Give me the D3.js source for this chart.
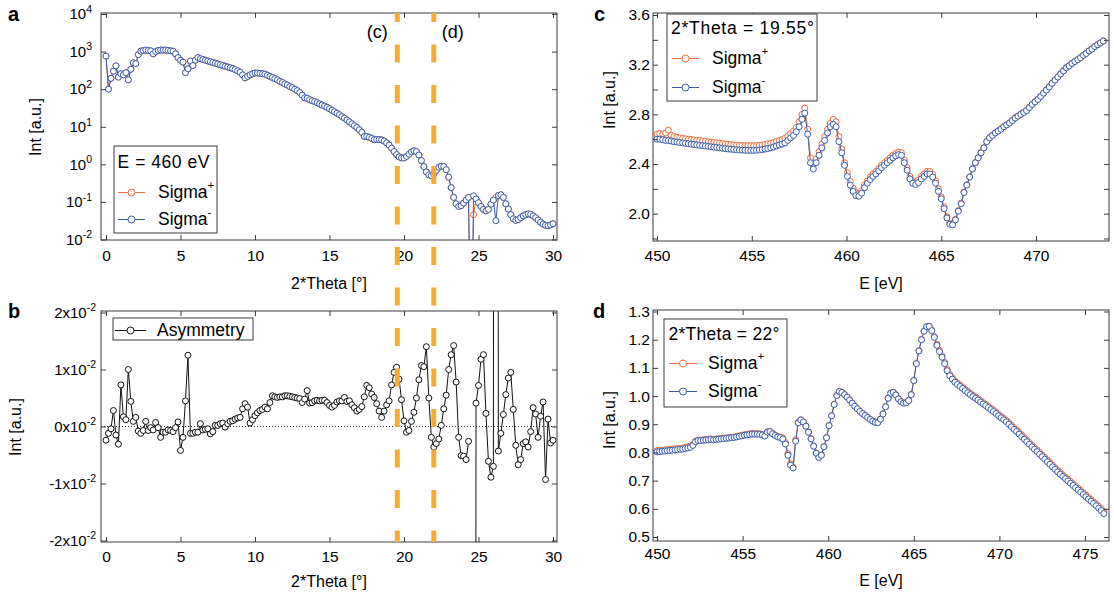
<!DOCTYPE html>
<html>
<head>
<meta charset="utf-8">
<script src="https://cdn.jsdelivr.net/npm/d3@7"></script>
<style>
  html, body { margin: 0; padding: 0; background: #fff; }
  svg { display: block; }
</style>
</head>
<body>
<svg id="chart" width="1114" height="596"></svg>
<script>
// ---------------------------------------------------------------
// Panel a: reflected intensity vs 2*Theta at E = 460 eV (log axis)
// ---------------------------------------------------------------
const sigmaMinusA = [
  760,100,195,302,417,209,257,240,275,178,
  339,501,479,832,1023,1072,1096,1072,1047,871,
  1000,1072,1096,1096,1096,1072,1047,1023,871,692,
  589,525,275,347,562,427,589,692,646,617,
  589,562,537,513,490,468,447,427,407,389,
  372,355,331,309,282,240,200,219,240,257,
  269,269,263,257,251,234,219,204,191,178,
  162,151,138,129,117,110,100,91.2,81.3,69.2,
  58.9,57.5,52.5,49.0,46.8,43.7,40.7,38.0,35.5,33.1,
  30.2,27.5,25.1,22.9,20.9,18.6,17.0,15.1,13.5,12.0,
  10.7,9.55,8.32,7.08,5.50,5.50,5.25,4.90,4.57,4.57,
  4.57,4.47,4.17,3.72,3.24,2.69,2.19,1.82,1.58,1.48,
  1.48,1.62,1.86,2.14,2.29,2.19,1.78,1.26,0.871,0.631,
  0.525,0.501,0.550,0.692,0.832,0.891,0.871,0.724,0.457,0.240,
  0.132,0.0891,0.0759,0.0794,0.0933,0.112,0.132,1e-6,0.145,0.120,
  0.0955,0.0759,0.0631,0.0575,0.0631,0.0871,0.112,0.0316,0.148,0.155,
  0.132,0.0891,0.0646,0.0457,0.0355,0.0324,0.0339,0.0380,0.0427,0.0457,
  0.0479,0.0468,0.0427,0.0380,0.0331,0.0288,0.0257,0.0240,0.0234,0.0245,
  0.0263
];
const sigmaPlusA = [
  760,100,195,302,417,209,257,240,275,178,
  339,501,479,832,1023,1072,1096,1072,1047,871,
  1000,1072,1096,1096,1096,1072,1047,1023,871,692,
  589,525,275,347,562,427,589,692,646,617,
  589,562,537,513,490,468,447,427,407,389,
  372,355,331,309,282,240,200,219,240,257,
  269,269,263,257,251,234,219,204,191,178,
  162,151,138,129,117,110,100,91.2,81.3,69.2,
  58.9,57.5,52.5,49.0,46.8,43.7,40.7,38.0,35.5,33.1,
  30.2,27.5,25.1,22.9,20.9,18.6,17.0,15.1,13.5,12.0,
  10.7,9.55,8.32,7.08,5.50,5.50,5.25,4.90,4.57,4.57,
  4.57,4.47,4.17,3.72,3.24,2.69,2.19,1.82,1.58,1.48,
  1.48,1.62,1.86,2.14,2.29,2.19,1.78,1.26,0.871,0.631,
  0.525,0.501,0.550,0.692,0.832,0.891,0.871,0.724,0.457,0.240,
  0.132,0.0891,0.0759,0.0794,0.0933,0.112,0.132,1e-6,0.0457,0.120,
  0.0955,0.0759,0.0631,0.0575,0.0631,0.0871,0.112,0.132,0.148,0.155,
  0.132,0.0891,0.0646,0.0457,0.0355,0.0324,0.0339,0.0380,0.0427,0.0457,
  0.0479,0.0468,0.0427,0.0380,0.0331,0.0288,0.0257,0.0240,0.0234,0.0245,
  0.0263
];

// ---------------------------------------------------------------
// Panel b: asymmetry vs 2*Theta (null = undefined point)
// ---------------------------------------------------------------
const asymmetryB = [
  -0.0024,-0.0012,-0.0004,0.0028,-0.0015,-0.0031,0.0073,0.0017,0.0012,0.0100,
  0.0044,0.0009,0.0016,-0.0008,-0.0012,-0.0007,0.0009,-0.0007,-0.0002,-0.0006,
  0.0007,-0.0002,-0.0019,-0.0010,-0.0010,-0.0006,-0.0007,-0.0009,-0.0002,0.0008,
  -0.0042,-0.0019,0.0045,0.0125,-0.0012,-0.0012,-0.0010,-0.0010,0.0005,-0.0006,
  -0.0005,-0.0004,-0.0013,-0.0009,0.0002,0.0002,0.0005,0.0006,-0.0001,0.0005,
  0.0009,0.0010,0.0013,0.0015,0.0016,0.0031,0.0040,0.0034,0.0006,0.0012,
  0.0019,0.0024,0.0028,0.0030,0.0034,0.0031,0.0042,0.0054,0.0052,0.0051,
  0.0052,0.0052,0.0054,0.0054,0.0053,0.0052,0.0051,0.0050,0.0049,0.0042,
  0.0048,0.0063,0.0041,0.0042,0.0045,0.0046,0.0045,0.0046,0.0046,0.0042,
  0.0037,0.0034,0.0037,0.0043,0.0045,0.0045,0.0051,0.0044,0.0045,0.0038,
  0.0033,0.0027,0.0030,0.0035,0.0052,0.0072,0.0068,0.0057,0.0051,0.0040,
  0.0027,0.0016,0.0027,0.0038,0.0045,0.0073,0.0095,0.0104,0.0083,0.0047,
  0.0010,-0.0010,-0.0007,0.0009,0.0025,0.0050,0.0082,0.0107,0.0105,0.0140,
  0.0050,-0.0019,-0.0036,-0.0030,-0.0022,0.0002,0.0031,0.0055,0.0100,0.0126,
  0.0142,0.0078,-0.0019,-0.0051,-0.0052,-0.0058,-0.0026,null,-0.52,0.0041,
  0.0072,0.0118,0.0126,0.0023,-0.0061,-0.0089,-0.0070,0.61,-0.0043,-0.0012,
  0.0021,0.0056,0.0085,0.0095,0.0030,-0.0033,-0.0067,-0.0058,-0.0030,-0.0027,
  -0.0036,-0.0009,0.0033,0.0022,-0.0019,0.0018,0.0043,-0.0093,0.0013,-0.0029,
  -0.0024
];

// ---------------------------------------------------------------
// Panel c: energy scan at 2*Theta = 19.55 deg
// ---------------------------------------------------------------
const sigmaMinusC = [
  2.600,2.600,2.595,2.590,2.590,2.585,2.580,2.577,2.573,2.570,
  2.566,2.563,2.560,2.557,2.554,2.551,2.548,2.545,2.542,2.539,
  2.536,2.533,2.530,2.527,2.524,2.521,2.519,2.517,2.515,2.513,
  2.512,2.511,2.510,2.510,2.510,2.511,2.513,2.516,2.520,2.525,
  2.530,2.537,2.545,2.553,2.560,2.570,2.590,2.610,2.630,2.660,
  2.700,2.760,2.810,2.640,2.410,2.360,2.410,2.470,2.530,2.590,
  2.650,2.700,2.720,2.700,2.580,2.490,2.390,2.300,2.230,2.180,
  2.145,2.140,2.165,2.210,2.245,2.275,2.300,2.320,2.345,2.370,
  2.390,2.410,2.430,2.450,2.465,2.475,2.470,2.410,2.350,2.280,
  2.245,2.235,2.250,2.280,2.300,2.320,2.320,2.295,2.245,2.180,
  2.120,2.040,1.965,1.915,1.910,1.950,2.020,2.080,2.170,2.230,
  2.295,2.360,2.410,2.450,2.490,2.530,2.580,2.610,2.630,2.650,
  2.665,2.680,2.700,2.715,2.730,2.750,2.770,2.785,2.800,2.815,
  2.830,2.855,2.880,2.900,2.920,2.945,2.970,2.995,3.020,3.050,
  3.075,3.100,3.125,3.150,3.175,3.190,3.210,3.225,3.240,3.255,
  3.275,3.290,3.310,3.325,3.345,3.360,3.375,3.390
];
const sigmaPlusC = [
  2.640,2.645,2.640,2.650,2.673,2.630,2.620,2.615,2.610,2.607,
  2.603,2.600,2.597,2.594,2.591,2.588,2.585,2.582,2.579,2.576,
  2.573,2.570,2.567,2.564,2.561,2.558,2.556,2.554,2.552,2.550,
  2.549,2.548,2.547,2.547,2.547,2.548,2.550,2.553,2.557,2.562,
  2.567,2.574,2.582,2.590,2.597,2.607,2.625,2.645,2.665,2.695,
  2.740,2.800,2.850,2.680,2.450,2.390,2.440,2.500,2.560,2.620,
  2.680,2.730,2.760,2.740,2.620,2.520,2.410,2.330,2.260,2.205,
  2.170,2.160,2.185,2.230,2.265,2.295,2.320,2.340,2.365,2.390,
  2.410,2.430,2.450,2.470,2.485,2.495,2.490,2.430,2.370,2.300,
  2.265,2.255,2.270,2.300,2.320,2.340,2.340,2.315,2.265,2.200,
  2.135,2.055,1.975,1.925,1.915,1.955,2.025,2.085,2.175,2.233,
  2.297,2.362,2.412,2.452,2.492,2.532,2.582,2.612,2.632,2.652,
  2.667,2.682,2.702,2.717,2.732,2.752,2.772,2.787,2.802,2.817,
  2.832,2.857,2.882,2.902,2.922,2.947,2.972,2.997,3.022,3.052,
  3.077,3.102,3.127,3.152,3.177,3.192,3.212,3.227,3.242,3.257,
  3.277,3.292,3.312,3.327,3.347,3.362,3.377,3.392
];

// ---------------------------------------------------------------
// Panel d: energy scan at 2*Theta = 22 deg
// ---------------------------------------------------------------
const sigmaMinusD = [
  0.802,0.803,0.804,0.805,0.806,0.807,0.808,0.809,0.810,0.811,
  0.812,0.814,0.816,0.818,0.825,0.838,0.842,0.842,0.843,0.844,
  0.845,0.846,0.845,0.846,0.847,0.848,0.849,0.850,0.851,0.852,
  0.853,0.855,0.857,0.859,0.861,0.862,0.864,0.865,0.865,0.865,
  0.864,0.862,0.858,0.872,0.874,0.866,0.860,0.855,0.853,0.848,
  0.830,0.790,0.755,0.745,0.840,0.905,0.915,0.908,0.893,0.872,
  0.848,0.822,0.797,0.782,0.790,0.820,0.852,0.895,0.930,0.970,
  1.002,1.016,1.013,1.005,0.996,0.986,0.975,0.964,0.955,0.946,
  0.938,0.931,0.924,0.917,0.911,0.907,0.906,0.918,0.936,0.962,
  0.992,1.010,1.013,1.004,0.990,0.980,0.975,0.976,0.984,1.005,
  1.055,1.115,1.160,1.200,1.230,1.246,1.247,1.232,1.208,1.180,
  1.158,1.138,1.115,1.090,1.072,1.060,1.049,1.041,1.034,1.027,
  1.019,1.012,1.005,0.998,0.992,0.986,0.979,0.972,0.966,0.959,
  0.952,0.945,0.938,0.930,0.923,0.916,0.909,0.900,0.891,0.882,
  0.874,0.865,0.856,0.847,0.838,0.829,0.820,0.811,0.803,0.794,
  0.785,0.776,0.767,0.758,0.749,0.740,0.731,0.723,0.715,0.707,
  0.699,0.691,0.683,0.675,0.667,0.659,0.651,0.643,0.635,0.627,
  0.619,0.611,0.602,0.594,0.583
];
const sigmaPlusD = [
  0.806,0.807,0.808,0.809,0.810,0.811,0.812,0.813,0.814,0.815,
  0.816,0.818,0.820,0.822,0.829,0.840,0.844,0.844,0.845,0.846,
  0.847,0.848,0.847,0.848,0.849,0.850,0.851,0.852,0.853,0.854,
  0.855,0.857,0.859,0.861,0.863,0.864,0.866,0.867,0.867,0.867,
  0.866,0.864,0.860,0.873,0.875,0.868,0.862,0.857,0.855,0.851,
  0.835,0.796,0.760,0.748,0.845,0.907,0.916,0.909,0.894,0.873,
  0.849,0.823,0.798,0.783,0.791,0.821,0.853,0.896,0.931,0.971,
  1.003,1.017,1.014,1.006,0.997,0.987,0.976,0.965,0.956,0.947,
  0.939,0.932,0.925,0.918,0.912,0.908,0.907,0.919,0.937,0.963,
  0.993,1.011,1.014,1.005,0.991,0.981,0.976,0.977,0.985,1.006,
  1.056,1.116,1.161,1.201,1.231,1.247,1.248,1.234,1.211,1.184,
  1.163,1.143,1.120,1.095,1.077,1.065,1.054,1.046,1.039,1.032,
  1.024,1.017,1.010,1.003,0.997,0.991,0.984,0.977,0.971,0.964,
  0.957,0.950,0.943,0.935,0.928,0.921,0.914,0.906,0.897,0.888,
  0.880,0.871,0.862,0.853,0.844,0.835,0.826,0.817,0.809,0.800,
  0.791,0.782,0.773,0.764,0.755,0.746,0.737,0.729,0.721,0.713,
  0.705,0.697,0.689,0.681,0.673,0.665,0.657,0.649,0.641,0.633,
  0.625,0.617,0.609,0.601,0.590
];

// Scan grids: 2*Theta in 1/6 deg steps, photon energy in 0.15 eV steps from 450 eV
const THETA_STEP = 1 / 6;
const E_START = 450, E_STEP = 0.15;
const theta   = d3.range(sigmaMinusA.length).map(i => i * THETA_STEP);
const energyC = d3.range(sigmaMinusC.length).map(i => E_START + i * E_STEP);
const energyD = d3.range(sigmaMinusD.length).map(i => E_START + i * E_STEP);

// Angles of the two energy scans, marked in panels a and b
const scanAngles = [19.55, 22];
const scanNames  = ["(c)", "(d)"];

// Tick values
const thetaTicks = [0, 5, 10, 15, 20, 25, 30];
const logTicks   = [1e-2, 1e-1, 1, 10, 100, 1000, 10000];
const asymTicks  = [-0.02, -0.01, 0, 0.01, 0.02];
const eTicksC    = [450, 455, 460, 465, 470];
const eTicksD    = [450, 455, 460, 465, 470, 475];
const yTicksC    = [1.8, 2.0, 2.2, 2.4, 2.6, 2.8, 3.0, 3.2, 3.4, 3.6];
const yLabelsC   = [2.0, 2.4, 2.8, 3.2, 3.6];
const yTicksD    = [0.5, 0.6, 0.7, 0.8, 0.9, 1.0, 1.1, 1.2, 1.3];

// ---------------------------------------------------------------
const FONT   = "'Liberation Sans', Arial, Helvetica, sans-serif";
const BLUE   = "#3a5cad";
const ORANGE = "#ef6b37";
const INK    = "#111111";
const FRAME  = "#3c3c3c";
const CUT    = "#f7ab34";
const LEG_FS = 17.5;

const svg = d3.select("#chart").attr("font-family", FONT);

const boxA = { l: 101, t: 13,  r: 557,  b: 240 };
const boxB = { l: 101, t: 311, r: 557,  b: 542 };
const boxC = { l: 653, t: 13,  r: 1109, b: 241 };
const boxD = { l: 653, t: 310, r: 1109, b: 541 };

const xA = d3.scaleLinear().domain([0, 30]).range([106, 553]);
const yA = d3.scaleLog().domain([1e-2, 1e4]).range([239.5, 14]);
const xB = xA;
const yB = d3.scaleLinear().domain([-0.02, 0.02]).range([540.5, 312.5]);
const xC = d3.scaleLinear().domain([450, 470]).range([657, 1036]);
const yC = d3.scaleLinear().domain([1.8, 3.6]).range([238.5, 15]);
const xD = d3.scaleLinear().domain([450, 475]).range([657, 1085]);
const yD = d3.scaleLinear().domain([0.5, 1.3]).range([537, 311.5]);

const defs = svg.append("defs");
function clip(id, box) {
  defs.append("clipPath").attr("id", id).append("rect")
    .attr("x", box.l).attr("y", box.t)
    .attr("width", box.r - box.l).attr("height", box.b - box.t);
}
clip("clipA", boxA); clip("clipB", boxB); clip("clipC", boxC); clip("clipD", boxD);

// one trace: connecting line plus open circle markers
function trace(clipId, xs, ys, x, y, color) {
  const g = svg.append("g").attr("clip-path", `url(#${clipId})`);
  const pts = xs.map((v, i) => ({ x: v, y: ys[i] }));
  g.append("path").datum(pts)
    .attr("fill", "none").attr("stroke", color).attr("stroke-width", 1)
    .attr("d", d3.line().defined(d => d.y != null).x(d => x(d.x)).y(d => y(d.y)));
  g.selectAll("circle").data(pts.filter(d => d.y != null)).join("circle")
    .attr("cx", d => x(d.x)).attr("cy", d => y(d.y)).attr("r", 3)
    .attr("fill", "#fff").attr("stroke", color).attr("stroke-width", 1);
}

// box frame with inward ticks on all four sides
function axes(box, x, y, o) {
  const style = a => {
    a.select(".domain").remove();
    a.attr("font-family", FONT).attr("color", "#000");
    a.selectAll(".tick line").attr("stroke", FRAME);
    return a;
  };
  const gb = style(svg.append("g").attr("transform", `translate(0,${box.b})`)
    .call(d3.axisBottom(x).tickValues(o.xTicks).tickSize(-5).tickPadding(o.xPad).tickFormat(d3.format("d"))))
    .attr("font-size", 15.5);
  style(svg.append("g").attr("transform", `translate(0,${box.t})`)
    .call(d3.axisTop(x).tickValues(o.xTicks).tickSize(-5).tickFormat("")));
  const gl = style(svg.append("g").attr("transform", `translate(${box.l},0)`)
    .call(d3.axisLeft(y).tickValues(o.yTicks).tickSize(-5).tickPadding(o.yPad).tickFormat(o.yFormat)))
    .attr("font-size", o.yFont);
  style(svg.append("g").attr("transform", `translate(${box.r},0)`)
    .call(d3.axisRight(y).tickValues(o.yTicks).tickSize(-5).tickFormat("")));
  svg.append("rect").attr("x", box.l).attr("y", box.t)
    .attr("width", box.r - box.l).attr("height", box.b - box.t)
    .attr("fill", "none").attr("stroke", FRAME).attr("stroke-width", 1);
  return { gb, gl };
}

function superscriptLabels(gl, base, exp) {
  gl.selectAll(".tick text").each(function (d) {
    const t = d3.select(this);
    t.text(null);
    t.append("tspan").text(base(d));
    t.append("tspan").attr("dy", "-0.62em").attr("font-size", 10.5).text(exp(d));
  });
}

function axisTitle(x, y, text, rotate) {
  svg.append("text").attr("x", x).attr("y", y)
    .attr("transform", rotate ? `rotate(-90,${x},${y})` : null)
    .attr("text-anchor", "middle").attr("dy", "0.35em")
    .attr("font-size", 16).attr("fill", "#000").text(text);
}

function panelLetter(x, y, t) {
  svg.append("text").attr("x", x).attr("y", y).attr("font-size", 20)
    .attr("font-weight", "bold").attr("fill", "#000").text(t);
}

function legend(o) {
  const g = svg.append("g");
  g.append("rect").attr("x", o.x).attr("y", o.y).attr("width", o.w).attr("height", o.h)
    .attr("fill", "#fff").attr("stroke", FRAME).attr("stroke-width", 1);
  if (o.title) {
    g.append("text").attr("x", o.titleX).attr("y", o.titleY).attr("font-size", LEG_FS)
      .attr("textLength", o.titleLen).attr("lengthAdjust", "spacing")
      .attr("fill", "#000").text(o.title);
  }
  o.rows.forEach(r => {
    g.append("line").attr("x1", o.lineX[0]).attr("x2", o.lineX[1])
      .attr("y1", r.y - 5.5).attr("y2", r.y - 5.5).attr("stroke", r.color).attr("stroke-width", 1);
    g.append("circle").attr("cx", (o.lineX[0] + o.lineX[1]) / 2).attr("cy", r.y - 5.5).attr("r", 3.5)
      .attr("fill", "#fff").attr("stroke", r.color).attr("stroke-width", 1);
    const t = g.append("text").attr("x", o.textX).attr("y", r.y).attr("font-size", LEG_FS).attr("fill", "#000");
    t.append("tspan").text(r.label);
    if (r.sup) t.append("tspan").attr("dy", -9).attr("font-size", 11.5).text(r.sup);
  });
}

// ---------------- panel a ----------------
trace("clipA", theta, sigmaPlusA, xA, yA, ORANGE);
trace("clipA", theta, sigmaMinusA, xA, yA, BLUE);
const axA = axes(boxA, xA, yA, {
  xTicks: thetaTicks, yTicks: logTicks, xPad: 10, yPad: 9, yFont: 15, yFormat: d => String(d)
});
superscriptLabels(axA.gl, () => "10", d => String(Math.round(Math.log10(d))));
legend({
  x: 114, y: 146, w: 103, h: 87,
  title: "E = 460 eV", titleX: 117.5, titleY: 168, titleLen: 92,
  lineX: [118, 145], textX: 158,
  rows: [
    { y: 198, color: ORANGE, label: "Sigma", sup: "+" },
    { y: 225, color: BLUE, label: "Sigma", sup: "-" }
  ]
});

// ---------------- panel b ----------------
svg.append("line").attr("x1", boxB.l).attr("x2", boxB.r)
  .attr("y1", yB(0)).attr("y2", yB(0))
  .attr("stroke", "#000").attr("stroke-width", 0.8).attr("stroke-dasharray", "1,2");
trace("clipB", theta, asymmetryB, xB, yB, INK);
const axB = axes(boxB, xB, yB, {
  xTicks: thetaTicks, yTicks: asymTicks, xPad: 9, yPad: 5, yFont: 15, yFormat: d => String(d)
});
superscriptLabels(axB.gl, d => `${Math.round(d * 100)}x10`, () => "-2");
legend({
  x: 113, y: 318, w: 140, h: 22,
  lineX: [115, 146], textX: 157,
  rows: [{ y: 336, color: INK, label: "Asymmetry" }]
});

// ---------------- panel c ----------------
trace("clipC", energyC, sigmaPlusC, xC, yC, ORANGE);
trace("clipC", energyC, sigmaMinusC, xC, yC, BLUE);
axes(boxC, xC, yC, {
  xTicks: eTicksC, yTicks: yTicksC, xPad: 9, yPad: 3, yFont: 15.5,
  yFormat: d => yLabelsC.some(v => Math.abs(v - d) < 1e-9) ? d3.format(".1f")(d) : ""
});
legend({
  x: 667, y: 14, w: 150, h: 87,
  title: "2*Theta = 19.55°", titleX: 671, titleY: 34, titleLen: 143,
  lineX: [672, 699], textX: 712,
  rows: [
    { y: 64, color: ORANGE, label: "Sigma", sup: "+" },
    { y: 93, color: BLUE, label: "Sigma", sup: "-" }
  ]
});

// ---------------- panel d ----------------
trace("clipD", energyD, sigmaPlusD, xD, yD, ORANGE);
trace("clipD", energyD, sigmaMinusD, xD, yD, BLUE);
axes(boxD, xD, yD, {
  xTicks: eTicksD, yTicks: yTicksD, xPad: 7, yPad: 3, yFont: 15.5, yFormat: d3.format(".1f")
});
legend({
  x: 664, y: 319, w: 123, h: 88,
  title: "2*Theta = 22°", titleX: 668.5, titleY: 340, titleLen: 111,
  lineX: [669, 697], textX: 708,
  rows: [
    { y: 369, color: ORANGE, label: "Sigma", sup: "+" },
    { y: 397, color: BLUE, label: "Sigma", sup: "-" }
  ]
});

// ---------------- titles and letters ----------------
axisTitle(35, 127, "Int [a.u.]", true);
axisTitle(15, 427, "Int [a.u.]", true);
axisTitle(609, 100, "Int [a.u.]", true);
axisTitle(609, 420, "Int [a.u.]", true);
axisTitle(329, 283, "2*Theta [°]", false);
axisTitle(329, 581, "2*Theta [°]", false);
axisTitle(881, 283, "E [eV]", false);
axisTitle(881, 580, "E [eV]", false);

panelLetter(8, 21, "a");
panelLetter(8, 318, "b");
panelLetter(594, 21, "c");
panelLetter(593, 318, "d");

// scan-angle markers: dashed lines through panels a and b, with their labels
scanAngles.forEach((ang, i) => {
  svg.append("line").attr("x1", xA(ang)).attr("x2", xA(ang))
    .attr("y1", boxA.t).attr("y2", boxB.b)
    .attr("stroke", CUT).attr("stroke-width", 5)
    .attr("stroke-dasharray", "18,22.5").attr("stroke-dashoffset", 9);
  svg.append("text").attr("x", xA(ang) + (i === 0 ? -20 : 19)).attr("y", 32)
    .attr("dy", "0.35em").attr("text-anchor", "middle").attr("font-size", 18)
    .attr("fill", "#000").text(scanNames[i]);
});
</script>
</body>
</html>
